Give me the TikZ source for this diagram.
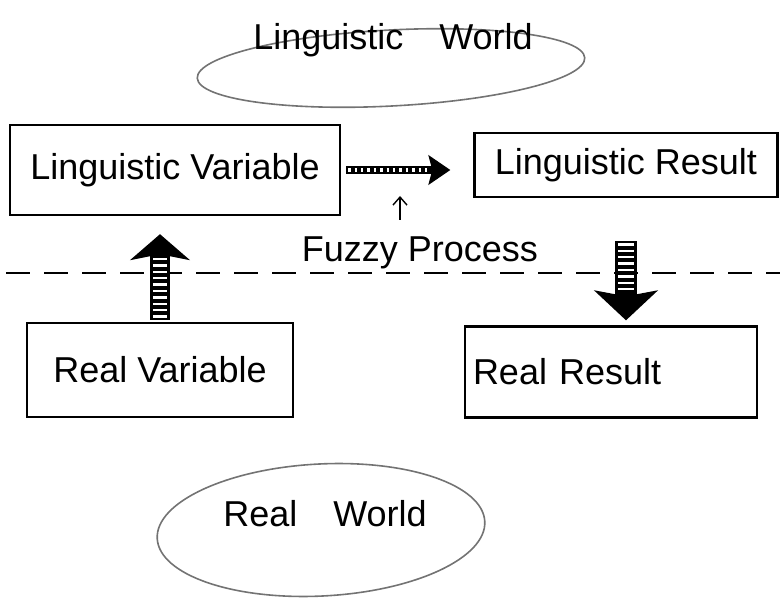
\documentclass[tikz,border=0pt]{standalone}
\usepackage{fontspec}
\setmainfont{Liberation Sans}
\usetikzlibrary{arrows.meta}

\begin{document}
\begin{tikzpicture}[x=0.5pt, y=-0.5pt,
    every node/.style={font=\fontsize{18}{21}\selectfont},
    box/.style={draw, line width=1.2pt, inner sep=4pt},
    world/.style={black!55, line width=0.8pt},
    fatarrow/.style={black, line width=#1},
    stripes/.style={white, line width=#1, dash pattern=on 1.2pt off 2pt}]
    \useasboundingbox (0,0) rectangle (782,609);

    % worlds
    \draw [world, rotate around={3:(391,68)}] (391,68) ellipse [x radius=97pt, y radius=19pt];
    \node (lw) at (393,40) {Linguistic\quad World};

    \draw [world, rotate around={3:(321,530)}] (321,530) ellipse [x radius=82pt, y radius=33pt];
    \node (rw) at (325,514) {Real\quad World};

    % boxes
    \node [box, minimum width=165pt, minimum height=45pt] (lv) at (175,170) {Linguistic Variable};
    \node [box, minimum width=151.5pt, minimum height=32pt] (lr) at (626,165) {Linguistic Result};
    \node [box, minimum width=133pt, minimum height=47pt] (rv) at (160,370) {Real Variable};
    \node [box, minimum height=45.5pt, text width=138pt, align=left] (rr) at (611,372) {Real Result};

    % border between the worlds
    \coordinate (dl) at (6,273);
    \coordinate (dr) at (780,273);
    \draw [line width=1pt, dash pattern=on 12pt off 7pt] (dl) -- (dr);

    \node [anchor=base] (fp) at (420,262) {Fuzzy Process};
    \coordinate (fptail) at (400,220);
    \coordinate (fptip) at (400,196);
    \draw [line width=0.7pt, -{Straight Barb[length=4pt, width=7pt]}] (fptail) -- (fptip);

    % fuzzy process arrow
    \draw [fatarrow=4pt, -{Stealth[length=11pt, width=15pt, inset=2pt, line width=0.6pt]},
            shorten <=2.5pt, shorten >=11.5pt] (lv.east) -- (lv.east -| lr.west);
    \draw [stripes=2.2pt, shorten <=3.5pt, shorten >=21pt] (lv.east) -- (lv.east -| lr.west);

    % real -> linguistic
    \draw [fatarrow=10pt, -{Stealth[length=13pt, width=30pt, inset=3pt, line width=0.8pt]},
            shorten <=1pt, shorten >=9pt] (rv.north) -- (rv.north |- lv.south);
    \draw [stripes=7pt, shorten <=2pt, shorten >=21pt] (rv.north) -- (rv.north |- lv.south);

    % linguistic -> real
    \draw [fatarrow=11pt, -{Stealth[length=15pt, width=32pt, inset=3pt, line width=0.8pt]},
            shorten <=21.5pt, shorten >=2.5pt] (lr.south) -- (lr.south |- rr.north);
    \draw [stripes=8pt, shorten <=22.5pt, shorten >=16pt] (lr.south) -- (lr.south |- rr.north);
\end{tikzpicture}
\end{document}
